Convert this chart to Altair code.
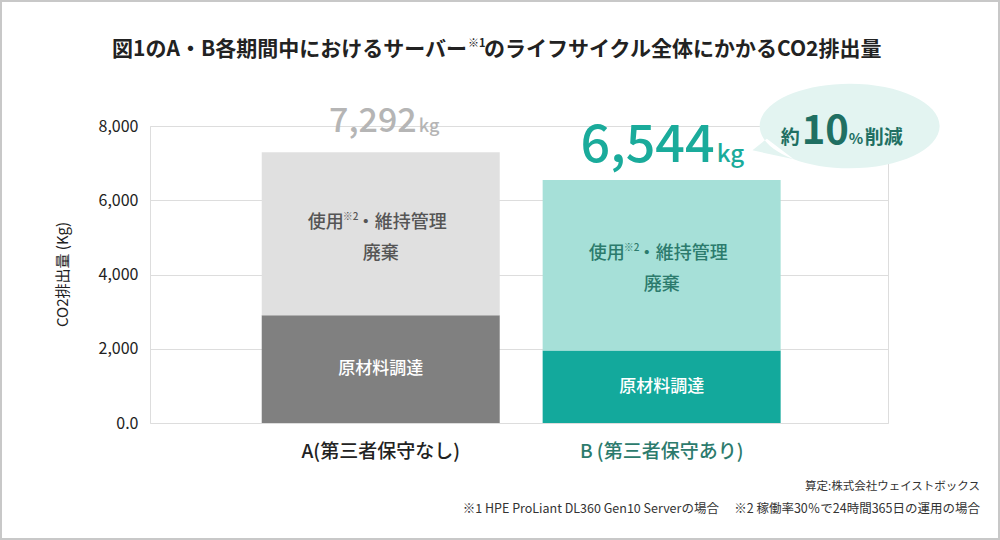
import altair as alt
import pandas as pd

# ---- data ----
categories = ["A(第三者保守なし)", "B (第三者保守あり)"]
totals = [7292, 6544]
materials = [2900, 1950]
segments = ["原材料調達", "使用・維持管理・廃棄"]
bar_colors = ["#808080", "#e0e0e0", "#13a99c", "#a6e0d8"]
top_text_colors = ["#555555", "#2c7b6d"]
y_ticks = [0, 2000, 4000, 6000, 8000]
top_label_parts = ["使用", "※2", "・維持管理", "廃棄"]
title_parts = ["図1のA・B各期間中におけるサーバー", "※1", "のライフサイクル全体にかかるCO2排出量"]
bubble_parts = ["約", "10", "%", "削減"]
source_note = "算定:株式会社ウェイストボックス"
foot_note = "※1 HPE ProLiant DL360 Gen10 Serverの場合　 ※2 稼働率30％で24時間365日の運用の場合"

FONT = "Noto Sans CJK JP"

rows = []
for i, (c, t, m) in enumerate(zip(categories, totals, materials)):
    rows.append({"cat": c, "seg": segments[0], "order": 0, "value": m,
                 "key": f"{c}|0", "tcol": top_text_colors[i]})
    rows.append({"cat": c, "seg": segments[1], "order": 1, "value": t - m,
                 "key": f"{c}|1", "tcol": top_text_colors[i]})
bars_df = pd.DataFrame(rows)
tot_df = pd.DataFrame({"cat": categories, "total": totals})
one = pd.DataFrame({"d": [0]})

x_scale = alt.Scale(domain=categories, paddingInner=0.153, paddingOuter=0.39, align=0.51)
x_axis = alt.Axis(
    labelFontSize=19, labelPadding=19, labelAngle=0, ticks=False, domain=False, grid=False,
    labelFont=FONT, labelFontWeight=500,
    labelColor={"condition": {"test": f"datum.value === '{categories[1]}'", "value": "#2c7b6d"},
                "value": "#222222"},
)
y_scale = alt.Scale(domain=[0, 8000], nice=False)
y_axis = alt.Axis(
    values=y_ticks, labelExpr="datum.value == 0 ? '0.0' : format(datum.value, ',')",
    labelFontSize=16, labelColor="#222222", labelPadding=12, labelFont=FONT,
    ticks=False, domain=False, grid=True, gridColor="#dddddd",
    title="CO2排出量 (Kg)", titleFontSize=15, titleFontWeight="normal", titleColor="#222222",
    titleFont=FONT, titleX=-88, titleY=148, titleAngle=270, titleAlign="center",
    titleBaseline="middle",
)


def X():
    return alt.X("cat:N", scale=x_scale, axis=x_axis, title=None, sort=categories)


def Y(field, **kw):
    return alt.Y(field, scale=y_scale, axis=y_axis, **kw)


bars = alt.Chart(bars_df).mark_bar(size=238).encode(
    x=X(),
    y=Y("value:Q", stack="zero"),
    order=alt.Order("order:Q"),
    color=alt.Color("key:N", scale=alt.Scale(domain=[f"{c}|{k}" for c in categories for k in (0, 1)],
                                             range=bar_colors), legend=None),
)

seg_base = alt.Chart(bars_df).transform_window(
    cum="sum(value)", groupby=["cat"], sort=[alt.SortField("order")]
).transform_calculate(mid="datum.cum - datum.value / 2")

bottom_text = seg_base.transform_filter("datum.order == 0").mark_text(
    font=FONT, fontSize=17, fontWeight=500, color="white", baseline="middle"
).encode(x=X(), y=Y("mid:Q"), text="seg:N")

top_base = seg_base.transform_filter("datum.order == 1")


def top_piece(txt, dx, dy, size, align):
    return top_base.mark_text(font=FONT, fontSize=size, fontWeight=500, align=align,
                              baseline="middle", dx=dx, dy=dy).encode(
        x=X(), y=Y("mid:Q"), text=alt.value(txt), color=alt.Color("tcol:N", scale=None))


top_texts = [
    top_piece(top_label_parts[0], -73, -11, 18, "left"),
    top_piece(top_label_parts[1], -38, -17, 10, "left"),
    top_piece(top_label_parts[2], -24, -11, 18, "left"),
    top_piece(top_label_parts[3], 0, 20, 18, "center"),
]

tot_base = alt.Chart(tot_df).transform_calculate(lbl="format(datum.total, ',')")


def total_piece(cat, field_or_text, dx, dy, size, color, align, weight=500):
    t = field_or_text
    ch = tot_base.transform_filter(f"datum.cat === '{cat}'").mark_text(
        font=FONT, fontSize=size, fontWeight=weight, color=color, align=align,
        baseline="alphabetic", dx=dx, dy=dy)
    txt = alt.Text("lbl:N") if t == "__lbl__" else alt.value(t)
    return ch.encode(x=X(), y=Y("total:Q"), text=txt)


totals_layers = [
    total_piece(categories[0], "__lbl__", 36, -20, 34, "#b5b5b5", "right"),
    total_piece(categories[0], "kg", 38, -20, 18, "#b5b5b5", "left"),
    total_piece(categories[1], "__lbl__", 53, -18, 52, "#1aab9b", "right"),
    total_piece(categories[1], "kg", 55, -18, 24, "#1aab9b", "left"),
]

bubble_path = ("M -1 0 A 1 0.47 0 1 1 1 0 A 1 0.47 0 1 1 -1 0 Z "
               "M -0.92 0.14 L -1.08 0.27 L -0.62 0.37 Z")
bubble = tot_base.transform_filter(f"datum.cat === '{categories[1]}'").mark_point(
    shape=bubble_path, size=32400, filled=True, fill="#e3f4f1", opacity=1,
    strokeWidth=0, xOffset=188, yOffset=-54
).encode(x=X(), y=Y("total:Q"))

bcol = "#206f62"
bubble_texts = [
    total_piece(categories[1], bubble_parts[0], 138, -36, 19, bcol, "right", 700),
    total_piece(categories[1], bubble_parts[1], 140, -36, 40, bcol, "left", 700),
    total_piece(categories[1], bubble_parts[2], 187, -36, 15, bcol, "left", 700),
    total_piece(categories[1], bubble_parts[3], 203, -36, 19, bcol, "left", 700),
]


def free_text(txt, x, y, size, align, weight=400, color="#222222", baseline="middle"):
    return alt.Chart(one).mark_text(font=FONT, fontSize=size, fontWeight=weight, color=color,
                                    align=align, baseline=baseline).encode(
        x=alt.value(x), y=alt.value(y), text=alt.value(txt))


title_layers = [
    free_text(title_parts[0], 317, -76, 21, "right", 700),
    free_text(title_parts[1], 318, -82, 11, "left", 700),
    free_text(title_parts[2], 334, -76, 21, "left", 700),
]
notes = [
    free_text(source_note, 830, 361, 11.5, "right", 400, "#333333"),
    free_text(foot_note, 830, 383, 12.5, "right", 400, "#333333"),
]

frame = alt.Chart(one).mark_rect(fillOpacity=0, stroke="#c8c8c8", strokeWidth=2).encode(
    x=alt.value(-149), x2=alt.value(849), y=alt.value(-125), y2=alt.value(413))

chart = alt.layer(
    bars, bottom_text, *top_texts, *totals_layers, bubble, *bubble_texts,
    *title_layers, *notes, frame
).properties(
    width=738, height=297,
    autosize=alt.AutoSizeParams(type="none"),
    padding={"left": 150, "top": 126, "right": 112, "bottom": 117},
    background="white",
).configure_view(stroke="#dddddd", strokeWidth=1).configure_text(font=FONT)

chart.save("out.html", embed_options={"renderer": "svg", "actions": False})
